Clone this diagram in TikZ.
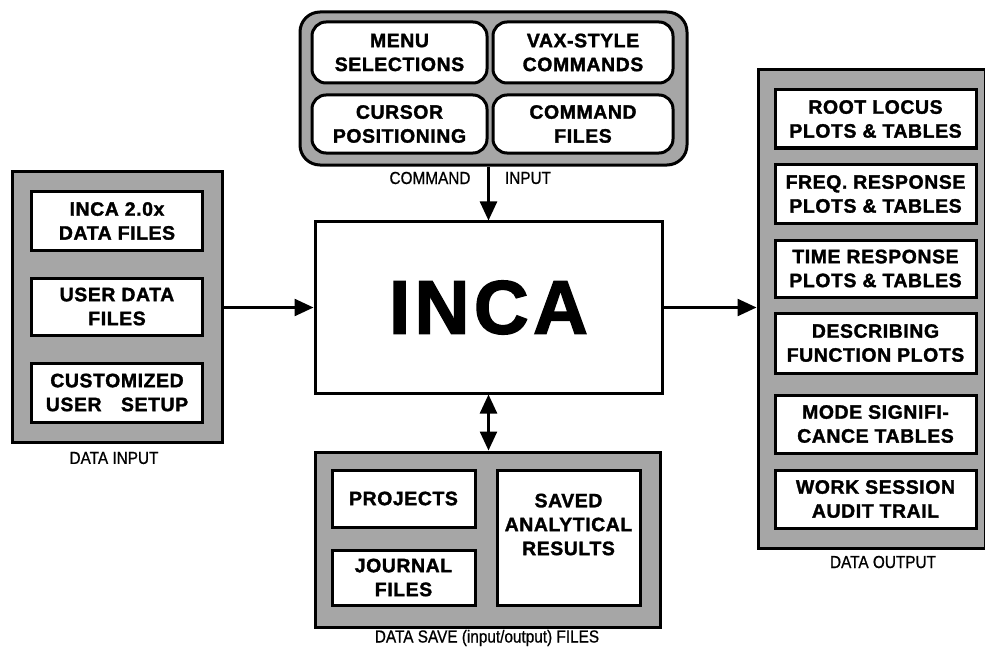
\documentclass[tikz,border=0pt]{standalone}
\usepackage{fontspec}
\setmainfont{Liberation Sans}
\newfontfamily\bxfont{Liberation Sans}[LetterSpace=3,FakeBold=1.6]
\newfontfamily\bigfont{Liberation Sans}[LetterSpace=6,FakeBold=2]
\newfontfamily\lblfont{Liberation Sans}[FakeStretch=0.88,FakeBold=0.8]
\usetikzlibrary{arrows.meta}
\begin{document}
\begin{tikzpicture}[x=1bp,y=-1bp,
  hatch/.style={draw=black, line width=3bp, fill=black!35},
  ibox/.style={draw=black, line width=3bp, fill=white, inner sep=0pt, align=center,
    font=\bxfont\bfseries\fontsize{19.5}{24}\selectfont},
  rbox/.style={ibox, rounded corners=14bp},
  itext/.style={inner sep=0pt, align=center, font=\bxfont\bfseries\fontsize{19.5}{24}\selectfont},
  lbl/.style={inner sep=0pt, font=\lblfont\fontsize{17.5}{19}\selectfont},
  conn/.style={line width=2.5bp, -{Triangle[length=19bp,width=17bp]}},
  dconn/.style={line width=2.5bp, {Triangle[length=19bp,width=17bp]}-{Triangle[length=19bp,width=17bp]}}
]
\useasboundingbox (0,0) rectangle (985,650);
% command input
\node[hatch, rounded corners=20bp, minimum width=387bp, minimum height=153bp] (cmd) at (493.5,88.5) {};
\node[rbox, minimum width=175bp, minimum height=61bp] (menu) at (399.5,52.5) {MENU\\SELECTIONS};
\node[rbox, minimum width=180bp, minimum height=61bp] (vax) at (583,52.5) {VAX-STYLE\\COMMANDS};
\node[rbox, minimum width=175bp, minimum height=58bp] (cursor) at (399.5,124) {CURSOR\\POSITIONING};
\node[rbox, minimum width=180bp, minimum height=58bp] (cfiles) at (583,124) {COMMAND\\FILES};
\node[lbl] (lcmd) at (430,178) {COMMAND};
\node[lbl] (linp) at (528,178) {INPUT};
% INCA
\node[draw=black, line width=3bp, fill=white, minimum width=347bp, minimum height=171bp, inner sep=0pt,
  font=\bigfont\bfseries\fontsize{76}{80}\selectfont] (inca) at (488.5,307.5) {INCA};
% data input
\node[hatch, minimum width=209bp, minimum height=270bp] (din) at (117.5,307) {};
\node[ibox, minimum width=170bp, minimum height=58bp] (d1) at (117,221) {INCA 2.0x\\DATA FILES};
\node[ibox, minimum width=170bp, minimum height=57bp] (d2) at (117,306.5) {USER DATA\\FILES};
\node[ibox, minimum width=170bp, minimum height=59bp] (d3) at (117,392.5) {CUSTOMIZED\\USER\quad SETUP};
\node[lbl] (ldin) at (114,458) {DATA INPUT};
% data save
\node[hatch, minimum width=345bp, minimum height=175bp] (dsave) at (487.5,539.5) {};
\node[ibox, minimum width=143bp, minimum height=57bp] (proj) at (403.5,498.5) {PROJECTS};
\node[ibox, minimum width=143bp, minimum height=55bp] (journ) at (403.5,577.5) {JOURNAL\\FILES};
\node[ibox, minimum width=143bp, minimum height=135bp] (saved) at (568.5,537.5) {};
\node[itext] (savedt) at ([yshift=13bp]saved.center) {SAVED\\ANALYTICAL\\RESULTS};
\node[lbl] (ldsave) at (487,638) {DATA SAVE (input/output) FILES};
% data output
\node[hatch, minimum width=227bp, minimum height=478bp] (dout) at (871.5,309) {};
\node[ibox, minimum width=201bp, minimum height=58bp] (o1) at (875.5,119) {ROOT LOCUS\\PLOTS \& TABLES};
\node[ibox, minimum width=201bp, minimum height=58bp] (o2) at (875.5,194) {FREQ. RESPONSE\\PLOTS \& TABLES};
\node[ibox, minimum width=201bp, minimum height=57bp] (o3) at (875.5,268.5) {TIME RESPONSE\\PLOTS \& TABLES};
\node[ibox, minimum width=201bp, minimum height=60bp] (o4) at (875.5,343) {DESCRIBING\\FUNCTION PLOTS};
\node[ibox, minimum width=201bp, minimum height=58bp] (o5) at (875.5,424) {MODE SIGNIFI-\\CANCE TABLES};
\node[ibox, minimum width=201bp, minimum height=58bp] (o6) at (875.5,499) {WORK SESSION\\AUDIT TRAIL};
\node[lbl] (ldout) at (883,562) {DATA OUTPUT};
% connectors
\draw[conn] (cmd.south -| inca.north) -- (inca.north);
\draw[conn] (din.east |- inca.west) -- (inca.west);
\draw[conn] (inca.east) -- (inca.east -| dout.west);
\draw[dconn] (inca.south) -- (inca.south |- dsave.north);
\end{tikzpicture}
\end{document}
